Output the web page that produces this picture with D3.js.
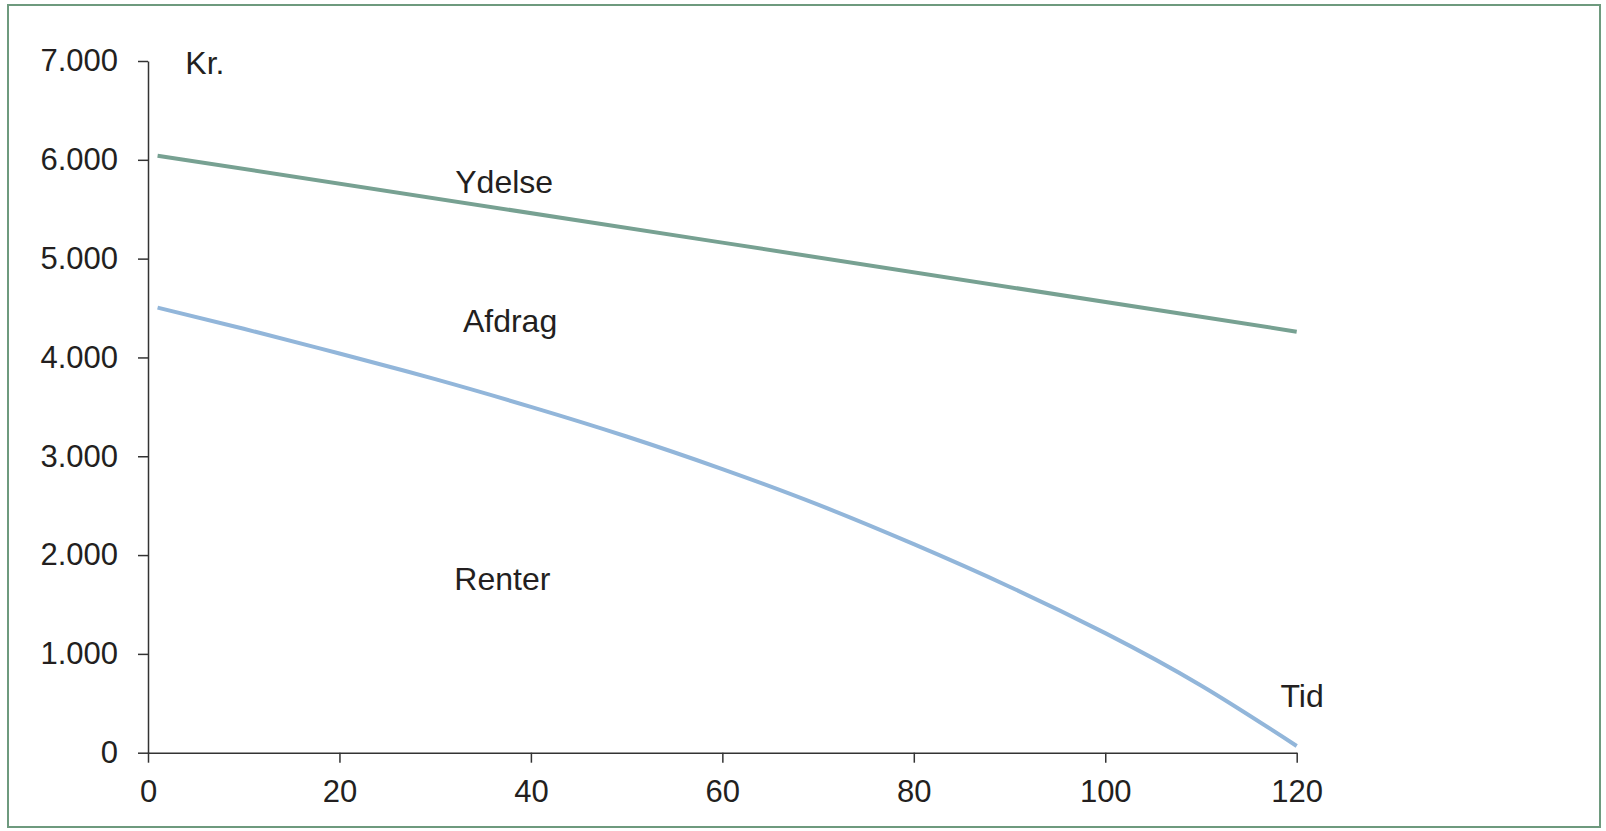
<!DOCTYPE html>
<html>
  <head>
    <meta charset="utf-8" />
    <script src="https://d3js.org/d3.v7.min.js"></script>
    <title>Ydelse, afdrag og renter</title>
    <style>
      body { margin: 0; background: #fff; }
      text { font-family: "Liberation Sans", Arial, sans-serif; fill: #231f20; }
      .axis path, .axis line { stroke: #333; stroke-width: 1.5px; }
      .axis text { font-size: 31px; fill: #231f20; }
      .note { font-size: 32px; }
    </style>
  </head>
  <body>
    <svg id="chart" width="1606" height="831"></svg>
    <script>
      // months
      var months = [1, 10, 20, 30, 40, 50, 60, 70, 80, 90, 100, 110, 120];
      // Ydelse (payment) - straight line
      var ydelseMonths = [1, 60, 120];
      var ydelse = [6042, 5162, 4261];
      // boundary between Renter (below) and Afdrag (above)
      var renter = [4504, 4290, 4040, 3780, 3500, 3200, 2870, 2510, 2110, 1680, 1210, 680, 68];

      var xTicks = [0, 20, 40, 60, 80, 100, 120];
      var yTicks = [0, 1000, 2000, 3000, 4000, 5000, 6000, 7000];

      var notes = [
        {t: "Kr.", x: 3.9, y: 6870},
        {t: "Ydelse", x: 32.1, y: 5665},
        {t: "Afdrag", x: 32.9, y: 4258},
        {t: "Renter", x: 32.0, y: 1647},
        {t: "Tid", x: 118.3, y: 463}
      ];

      var svg = d3.select("#chart");

      // frame
      svg.append("rect")
        .attr("x", 8).attr("y", 5)
        .attr("width", 1592).attr("height", 822)
        .attr("fill", "none")
        .attr("stroke", "#6e9a7e")
        .attr("stroke-width", 2);

      var x = d3.scaleLinear().domain([0, 120]).range([148, 1296.7]);
      var y = d3.scaleLinear().domain([0, 7000]).range([752.7, 61]);

      var fmt = function(d) { return d3.format(",")(d).replace(/,/g, "."); };

      svg.append("g")
        .attr("class", "axis")
        .attr("transform", "translate(148,0)")
        .call(d3.axisLeft(y).tickValues(yTicks).tickFormat(fmt)
          .tickSize(10).tickSizeOuter(0).tickPadding(20));

      svg.append("g")
        .attr("class", "axis")
        .attr("transform", "translate(0,752.7)")
        .call(d3.axisBottom(x).tickValues(xTicks).tickFormat(d3.format("d"))
          .tickSize(10).tickSizeOuter(0).tickPadding(17));

      var line = d3.line()
        .x(function(d) { return x(d[0]); })
        .y(function(d) { return y(d[1]); });

      svg.append("path")
        .datum(ydelseMonths.map(function(m, i) { return [m, ydelse[i]]; }))
        .attr("fill", "none")
        .attr("stroke", "#77a192")
        .attr("stroke-width", 4)
        .attr("d", line);

      svg.append("path")
        .datum(months.map(function(m, i) { return [m, renter[i]]; }))
        .attr("fill", "none")
        .attr("stroke", "#92b6da")
        .attr("stroke-width", 4)
        .attr("d", line.curve(d3.curveNatural));

      svg.selectAll(".note")
        .data(notes)
        .enter().append("text")
        .attr("class", "note")
        .attr("x", function(d) { return x(d.x); })
        .attr("y", function(d) { return y(d.y); })
        .text(function(d) { return d.t; });
    </script>
  </body>
</html>
